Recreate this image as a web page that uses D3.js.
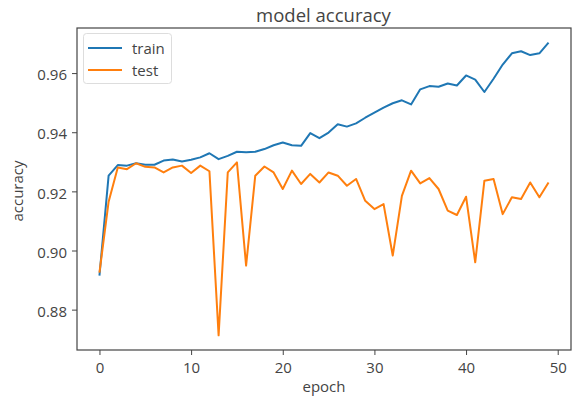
<!DOCTYPE html>
<html>
<head>
<meta charset="utf-8">
<script src="https://cdn.jsdelivr.net/npm/d3@7"></script>
<style>
  body { margin: 0; background: #fff; }
  text { font-family: "Open Sans", sans-serif; fill: #444; }
</style>
</head>
<body>
<svg id="chart" width="579" height="400"></svg>
<script>
// accuracy per epoch
var epochs = d3.range(0, 50);
var train = [0.8915, 0.9253, 0.9289, 0.9287, 0.9295, 0.9290, 0.9290, 0.9304, 0.9308, 0.9301,
             0.9307, 0.9315, 0.9329, 0.9309, 0.9320, 0.9334, 0.9332, 0.9334, 0.9343, 0.9356,
             0.9365, 0.9356, 0.9354, 0.9397, 0.9380, 0.9399, 0.9427, 0.9419, 0.9430, 0.9449,
             0.9466, 0.9483, 0.9498, 0.9508, 0.9494, 0.9545, 0.9556, 0.9554, 0.9565, 0.9558,
             0.9592, 0.9578, 0.9536, 0.9581, 0.9629, 0.9667, 0.9674, 0.9661, 0.9667, 0.9703];
var test = [0.8925, 0.9165, 0.9281, 0.9275, 0.9295, 0.9283, 0.9281, 0.9264, 0.9281, 0.9287,
            0.9262, 0.9287, 0.9268, 0.8713, 0.9264, 0.9298, 0.8949, 0.9253, 0.9284, 0.9264,
            0.9208, 0.9270, 0.9225, 0.9259, 0.9230, 0.9264, 0.9253, 0.9219, 0.9242, 0.9168,
            0.9140, 0.9157, 0.8983, 0.9185, 0.9270, 0.9227, 0.9245, 0.9208, 0.9135, 0.9120,
            0.9182, 0.8960, 0.9236, 0.9242, 0.9123, 0.9180, 0.9174, 0.9230, 0.9180, 0.9230];
var xTicks = [0, 10, 20, 30, 40, 50];
var yTicks = [0.88, 0.90, 0.92, 0.94, 0.96];
var seriesNames = ["train", "test"];
var colors = ["#1f77b4", "#ff7f0e"];

var svg = d3.select("#chart");
var pLeft = 77, pRight = 571, pTop = 28, pBottom = 350;

// matplotlib style 5% margins
var xExt = d3.extent(epochs), xPad = (xExt[1] - xExt[0]) * 0.05;
var all = train.concat(test);
var yExt = d3.extent(all), yPad = (yExt[1] - yExt[0]) * 0.05;

var x = d3.scaleLinear().domain([xExt[0] - xPad, xExt[1] + xPad]).range([pLeft, pRight]);
var y = d3.scaleLinear().domain([yExt[0] - yPad, yExt[1] + yPad]).range([pBottom, pTop]);

var xAxis = svg.append("g")
  .attr("transform", "translate(0," + pBottom + ")")
  .call(d3.axisBottom(x).tickValues(xTicks).tickSize(5).tickPadding(7).tickSizeOuter(0));
var yAxis = svg.append("g")
  .attr("transform", "translate(" + pLeft + ",0)")
  .call(d3.axisLeft(y).tickValues(yTicks).tickFormat(d3.format(".2f")).tickSize(5).tickPadding(5).tickSizeOuter(0));

[xAxis, yAxis].forEach(function(a) {
  a.select(".domain").remove();
  a.selectAll(".tick line").attr("stroke", "#444");
  a.selectAll(".tick text").style("font-size", "15px").style("font-family", "Open Sans").attr("fill", "#444");
});
yAxis.selectAll(".tick text").attr("dy", "0.45em");

// frame
svg.append("rect")
  .attr("x", pLeft).attr("y", pTop)
  .attr("width", pRight - pLeft).attr("height", pBottom - pTop)
  .attr("fill", "none").attr("stroke", "#444").attr("stroke-width", 1.2);

var line = d3.line()
  .x(function(d, i) { return x(epochs[i]); })
  .y(function(d) { return y(d); });

[train, test].forEach(function(s, k) {
  svg.append("path")
    .attr("d", line(s))
    .attr("fill", "none")
    .attr("stroke", colors[k])
    .attr("stroke-width", 2)
    .attr("stroke-linejoin", "round");
});

// title and labels
svg.append("text").attr("x", 323.5).attr("y", 21.5)
  .attr("text-anchor", "middle").style("font-size", "18.5px").text("model accuracy");
svg.append("text").attr("x", 324).attr("y", 392)
  .attr("text-anchor", "middle").style("font-size", "15px").text("epoch");
svg.append("text")
  .attr("transform", "translate(23," + ((pTop + pBottom) / 2 + 2) + ") rotate(-90)")
  .attr("text-anchor", "middle").style("font-size", "15px").text("accuracy");

// legend
var lg = svg.append("g");
lg.append("rect").attr("x", 83.5).attr("y", 33.5).attr("width", 88).attr("height", 50)
  .attr("rx", 3).attr("fill", "#fff").attr("stroke", "#ddd");
seriesNames.forEach(function(n, k) {
  var ly = 48 + k * 22;
  lg.append("line").attr("x1", 88).attr("x2", 122).attr("y1", ly).attr("y2", ly)
    .attr("stroke", colors[k]).attr("stroke-width", 2);
  lg.append("text").attr("x", 132).attr("y", ly + 6).style("font-size", "15px").text(n);
});
</script>
</body>
</html>
